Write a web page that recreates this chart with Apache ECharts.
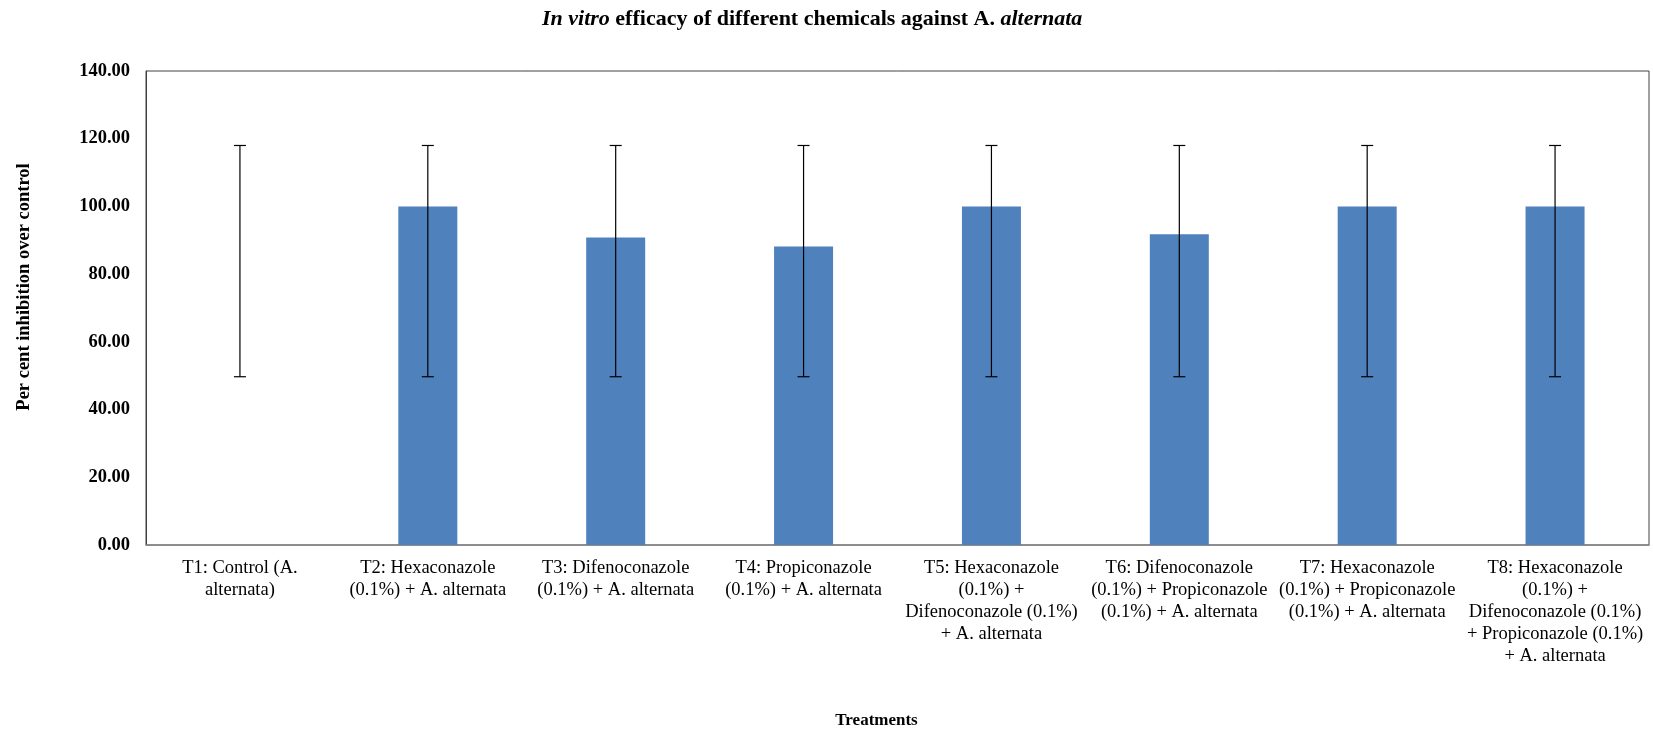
<!DOCTYPE html>
<html>
<head>
<meta charset="utf-8">
<script src="https://cdn.jsdelivr.net/npm/echarts@6/dist/echarts.min.js"></script>
<style>
html,body{margin:0;padding:0;background:#fff;}
#chart{width:1653px;height:734px;}
</style>
</head>
<body>
<div id="chart"></div>
<script>
const categories = [
  "T1: Control (A.\nalternata)",
  "T2: Hexaconazole\n(0.1%) + A. alternata",
  "T3: Difenoconazole\n(0.1%) + A. alternata",
  "T4: Propiconazole\n(0.1%) + A. alternata",
  "T5: Hexaconazole\n(0.1%) +\nDifenoconazole (0.1%)\n+ A. alternata",
  "T6: Difenoconazole\n(0.1%) + Propiconazole\n(0.1%) + A. alternata",
  "T7: Hexaconazole\n(0.1%) + Propiconazole\n(0.1%) + A. alternata",
  "T8: Hexaconazole\n(0.1%) +\nDifenoconazole (0.1%)\n+ Propiconazole (0.1%)\n+ A. alternata"
];
const inhibition = [0, 100, 90.8, 88.2, 100, 91.8, 100, 100];
const errLow = [49.7, 49.7, 49.7, 49.7, 49.7, 49.7, 49.7, 49.7];
const errHigh = [118.0, 118.0, 118.0, 118.0, 118.0, 118.0, 118.0, 118.0];
const yTicks = {min: 0, max: 140, interval: 20};

const FONT = '"Liberation Serif", "Times New Roman", serif';
const chart = echarts.init(document.getElementById('chart'), null, {renderer: 'canvas'});

chart.setOption({
  animation: false,
  backgroundColor: '#ffffff',
  title: {
    text: '{i|In vitro} efficacy of different chemicals against A. {i|alternata}',
    left: 537,
    top: 3,
    textStyle: {
      fontFamily: FONT, fontSize: 22, fontWeight: 'bold', color: '#000',
      rich: {i: {fontFamily: FONT, fontSize: 22, fontWeight: 'bold', fontStyle: 'italic', color: '#000'}}
    }
  },
  grid: {
    left: 146, right: 4, top: 71, bottom: 185,
    show: true, borderColor: '#404040', borderWidth: 1, backgroundColor: 'transparent'
  },
  xAxis: {
    type: 'category',
    data: categories,
    name: 'Treatments',
    nameLocation: 'middle',
    nameGap: 167,
    nameTextStyle: {fontFamily: FONT, fontSize: 17, fontWeight: 'bold', color: '#000', padding: [0, 42, 0, 0]},
    axisLine: {show: true, lineStyle: {color: '#868686', width: 1.5}},
    axisTick: {show: false},
    axisLabel: {
      interval: 0, margin: 12, fontFamily: FONT, fontSize: 18.5, lineHeight: 22, color: '#000', align: 'center'
    },
    splitLine: {show: false}
  },
  yAxis: {
    type: 'value',
    min: yTicks.min, max: yTicks.max, interval: yTicks.interval,
    name: 'Per cent inhibition over control',
    nameLocation: 'middle',
    nameGap: 112,
    nameTextStyle: {fontFamily: FONT, fontSize: 18.5, fontWeight: 'bold', color: '#000', padding: [0, 0, 0, 42]},
    axisLine: {show: true, lineStyle: {color: '#404040', width: 1}},
    axisTick: {show: false},
    axisLabel: {
      margin: 16, fontFamily: FONT, fontSize: 18.5, fontWeight: 'bold', color: '#000',
      formatter: v => v.toFixed(2)
    },
    splitLine: {show: false}
  },
  series: [
    {
      type: 'bar',
      data: inhibition,
      barWidth: 59,
      itemStyle: {color: '#4F81BD', borderWidth: 0}
    },
    {
      type: 'custom',
      data: categories.map((c, i) => [i, errLow[i], errHigh[i]]),
      encode: {x: 0, y: [1, 2]},
      z: 10,
      renderItem: function (params, api) {
        const lo = api.coord([api.value(0), api.value(1)]);
        const hi = api.coord([api.value(0), api.value(2)]);
        const half = 6;
        const style = {stroke: '#000', lineWidth: 1.2};
        return {
          type: 'group',
          children: [
            {type: 'line', shape: {x1: lo[0], y1: lo[1], x2: hi[0], y2: hi[1]}, style: style},
            {type: 'line', shape: {x1: hi[0] - half, y1: hi[1], x2: hi[0] + half, y2: hi[1]}, style: style},
            {type: 'line', shape: {x1: lo[0] - half, y1: lo[1], x2: lo[0] + half, y2: lo[1]}, style: style}
          ]
        };
      }
    }
  ]
});
</script>
</body>
</html>
